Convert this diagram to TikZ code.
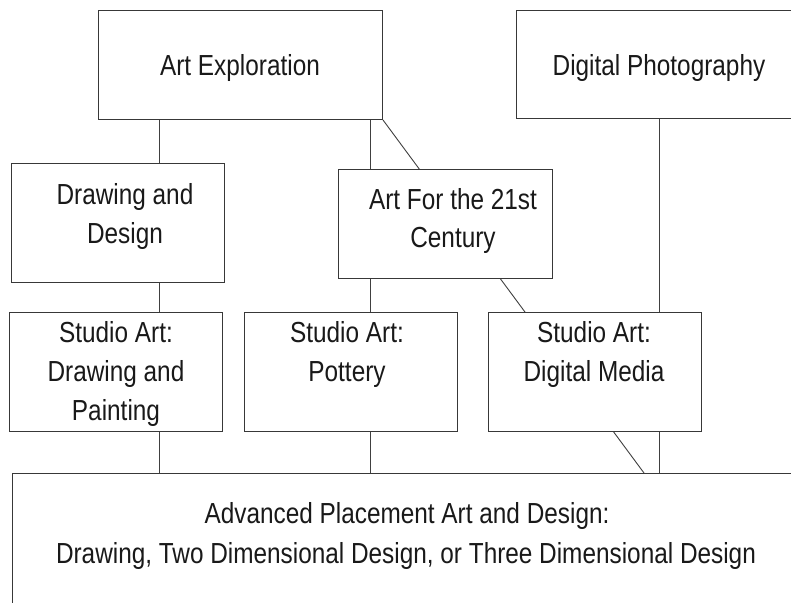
\documentclass[tikz,border=0pt]{standalone}
\usepackage{fontspec}
\setmainfont{Liberation Sans}[FakeStretch=0.84]
\usetikzlibrary{backgrounds}
\begin{document}
\begin{tikzpicture}[x=1pt,y=-1pt,
  box/.style={draw=black!78,line width=1pt,fill=white,rectangle,inner sep=0pt,anchor=north west},
  lbl/.style={anchor=base,inner sep=0pt,font=\fontsize{29pt}{39pt}\selectfont,text=black!90},
  conn/.style={draw=black!75,line width=0.9pt}]
\useasboundingbox (0,0) rectangle (791,602);
% boxes
\node[box,minimum width=284pt,minimum height=109pt] (ae) at (98,10) {};
\node[box,minimum width=290pt,minimum height=108pt] (dp) at (516,10) {};
\node[box,minimum width=213pt,minimum height=119pt] (dd) at (11,163) {};
\node[box,minimum width=214pt,minimum height=109pt] (a21) at (338,169) {};
\node[box,minimum width=213pt,minimum height=119pt] (sadp) at (9,312) {};
\node[box,minimum width=213pt,minimum height=119pt] (sap) at (244,312) {};
\node[box,minimum width=213pt,minimum height=119pt] (sadm) at (488,312) {};
\node[box,minimum width=800pt,minimum height=145pt] (ap) at (12,473) {};
% labels
\node[lbl] (ae1) at (240,75) {Art Exploration};
\node[lbl] (dp1) at (659,75) {Digital Photography};
\node[lbl] (dd1) at (125,204) {Drawing and};
\node[lbl] (dd2) at (125,243) {Design};
\node[lbl] (a211) at (453,209) {Art For the 21st};
\node[lbl] (a212) at (453,247) {Century};
\node[lbl] (sadp1) at (116,342) {Studio Art:};
\node[lbl] (sadp2) at (116,381) {Drawing and};
\node[lbl] (sadp3) at (116,420) {Painting};
\node[lbl] (sap1) at (347,342) {Studio Art:};
\node[lbl] (sap2) at (347,381) {Pottery};
\node[lbl] (sadm1) at (594,342) {Studio Art:};
\node[lbl] (sadm2) at (594,381) {Digital Media};
\node[lbl] (ap1) at (407,523) {Advanced Placement Art and Design:};
\node[lbl] (ap2) at (406,563) {Drawing, Two Dimensional Design, or Three Dimensional Design};
% connector columns
\coordinate (cA) at (159,0);
\coordinate (cB) at (370,0);
\coordinate (cC) at (644,0);
\coordinate (cD) at (659,0);
\begin{pgfonlayer}{background}
\fill[white] (0,0) rectangle (791,602);
\draw[conn] (ae.south -| cA) -- (dd.north -| cA);
\draw[conn] (dd.south -| cA) -- (sadp.north -| cA);
\draw[conn] (sadp.south -| cA) -- (ap.north -| cA);
\draw[conn] (ae.south -| cB) -- (a21.north -| cB);
\draw[conn] (a21.south -| cB) -- (sap.north -| cB);
\draw[conn] (sap.south -| cB) -- (ap.north -| cB);
\draw[conn] (ae.south east) -- (ap.north -| cC);
\draw[conn] (dp.south -| cD) -- (ap.north -| cD);
\end{pgfonlayer}
\end{tikzpicture}
\end{document}
